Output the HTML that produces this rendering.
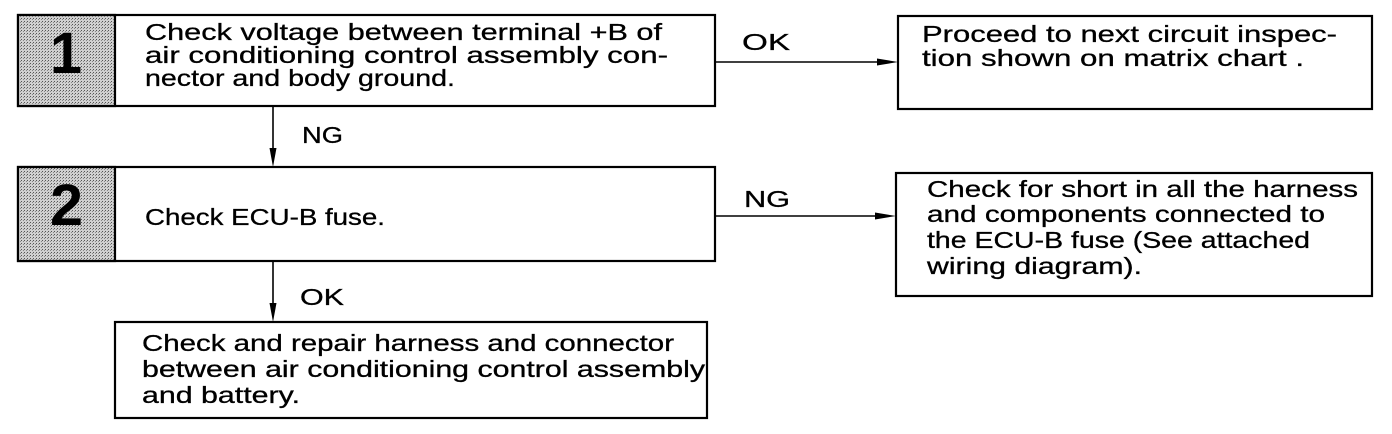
<!DOCTYPE html>
<html><head><meta charset="utf-8"><style>
html,body{margin:0;padding:0;background:#fff;}
svg{display:block;}
text{font-family:"Liberation Sans",Arial,sans-serif;fill:#000;}
.t{font-size:23px;stroke:#000;stroke-width:0.3px;}
.d{font-size:58px;font-weight:bold;}
</style></head><body>
<svg width="1392" height="434" viewBox="0 0 1392 434" xmlns="http://www.w3.org/2000/svg">
<defs>
<pattern id="dots" width="3" height="3" patternUnits="userSpaceOnUse">
<rect width="3" height="3" fill="#d0d0d0"/>
<rect x="0" y="0" width="1" height="1" fill="#555"/>
<rect x="2" y="1" width="1" height="1" fill="#888"/>
</pattern>
</defs>
<g fill="none" stroke="#000" stroke-width="2.2">
<rect x="18" y="15" width="697" height="91" fill="#fff"/>
<rect x="18" y="15" width="97" height="91" fill="url(#dots)"/>
<rect x="18" y="167" width="697" height="94" fill="#fff"/>
<rect x="18" y="167" width="97" height="94" fill="url(#dots)"/>
<rect x="898" y="16" width="474" height="93"/>
<rect x="896" y="173" width="476" height="123"/>
<rect x="115" y="322" width="592" height="96"/>
</g>
<g stroke="#000" stroke-width="1.6">
<line x1="715" y1="62" x2="885" y2="62"/>
<line x1="715" y1="216" x2="882" y2="216"/>
<line x1="273" y1="106" x2="273" y2="155"/>
<line x1="273" y1="261" x2="273" y2="310"/>
</g>
<g fill="#000">
<polygon points="898,62 877,58.5 877,65.5"/>
<polygon points="896,216 875,212.5 875,219.5"/>
<polygon points="273,167 269.5,148 276.5,148"/>
<polygon points="273,322 269.5,303 276.5,303"/>
</g>
<text class="d" x="50" y="73" textLength="32" lengthAdjust="spacingAndGlyphs">1</text>
<text class="d" x="50" y="225" textLength="33" lengthAdjust="spacingAndGlyphs">2</text>

<text class="t" x="145" y="40" textLength="517" lengthAdjust="spacingAndGlyphs">Check voltage between terminal +B of</text>
<text class="t" x="145" y="63" textLength="523" lengthAdjust="spacingAndGlyphs">air conditioning control assembly con-</text>
<text class="t" x="145" y="86" textLength="310" lengthAdjust="spacingAndGlyphs">nector and body ground.</text>

<text class="t" x="145" y="225" textLength="240" lengthAdjust="spacingAndGlyphs">Check ECU-B fuse.</text>

<text class="t" x="302" y="143" textLength="41" lengthAdjust="spacingAndGlyphs">NG</text>
<text class="t" x="300" y="305" textLength="44" lengthAdjust="spacingAndGlyphs">OK</text>
<text class="t" x="742" y="50" textLength="48" lengthAdjust="spacingAndGlyphs">OK</text>
<text class="t" x="744" y="207" textLength="46" lengthAdjust="spacingAndGlyphs">NG</text>

<text class="t" x="922" y="42" textLength="415" lengthAdjust="spacingAndGlyphs">Proceed to next circuit inspec-</text>
<text class="t" x="922" y="66" textLength="382" lengthAdjust="spacingAndGlyphs">tion shown on matrix chart .</text>

<text class="t" x="927" y="197" textLength="431" lengthAdjust="spacingAndGlyphs">Check for short in all the harness</text>
<text class="t" x="927" y="222" textLength="398" lengthAdjust="spacingAndGlyphs">and components connected to</text>
<text class="t" x="927" y="248" textLength="383" lengthAdjust="spacingAndGlyphs">the ECU-B fuse (See attached</text>
<text class="t" x="927" y="274" textLength="215" lengthAdjust="spacingAndGlyphs">wiring diagram).</text>

<text class="t" x="142" y="351" textLength="532" lengthAdjust="spacingAndGlyphs">Check and repair harness and connector</text>
<text class="t" x="142" y="377" textLength="563" lengthAdjust="spacingAndGlyphs">between air conditioning control assembly</text>
<text class="t" x="142" y="403" textLength="158" lengthAdjust="spacingAndGlyphs">and battery.</text>
</svg>
</body></html>
